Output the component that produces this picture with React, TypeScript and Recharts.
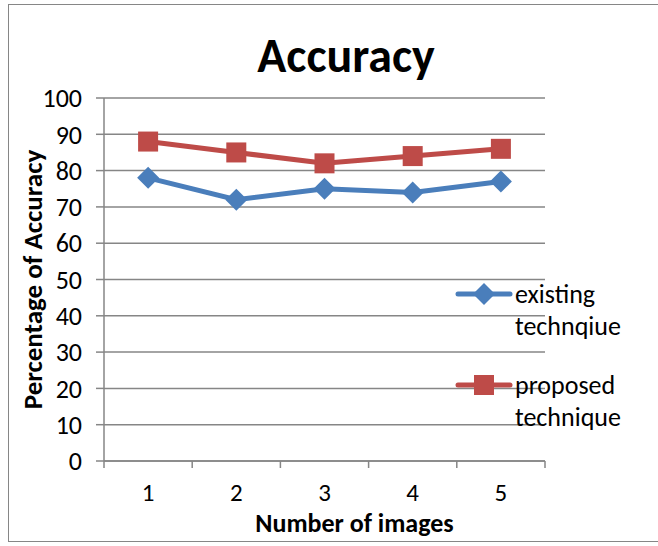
import React from 'react'
import { LineChart, Line, XAxis, YAxis, CartesianGrid } from 'recharts'

const categories = ['1', '2', '3', '4', '5']
const existing = [78, 72, 75, 74, 77]
const proposed = [88, 85, 82, 84, 86]
const yTicks = [0, 10, 20, 30, 40, 50, 60, 70, 80, 90, 100]

const FONT = "Carlito, 'Liberation Sans Narrow', 'Liberation Sans', sans-serif"
const BLUE = '#4a7ebb'
const RED = '#be4b48'
const GRID = '#868686'

const W = 650
const H = 538
const MARGIN = { top: 94, right: 113, left: 0, bottom: 0 }
const Y_W = 96
const BAND = (W - MARGIN.left - MARGIN.right - Y_W) / categories.length

const data = categories.map((c, i) => ({
  name: c,
  existing: existing[i],
  proposed: proposed[i],
}))

// eslint-disable-next-line @typescript-eslint/no-explicit-any
function Diamond({ cx, cy }: any) {
  if (cx == null || cy == null) return null
  const r = 11
  return (
    <polygon
      points={`${cx},${cy - r} ${cx + r},${cy} ${cx},${cy + r} ${cx - r},${cy}`}
      fill={BLUE}
    />
  )
}

// eslint-disable-next-line @typescript-eslint/no-explicit-any
function Square({ cx, cy }: any) {
  if (cx == null || cy == null) return null
  const s = 10
  return <rect x={cx - s} y={cy - s} width={s * 2} height={s * 2} fill={RED} />
}

// tick marks sit between categories, like Excel
// eslint-disable-next-line @typescript-eslint/no-explicit-any
function XTick({ x, y, payload, index }: any) {
  const half = BAND / 2
  return (
    <g>
      <line x1={x - half} x2={x - half} y1={y} y2={y + 7} stroke={GRID} strokeWidth={1.5} />
      {index === categories.length - 1 && (
        <line x1={x + half} x2={x + half} y1={y} y2={y + 7} stroke={GRID} strokeWidth={1.5} />
      )}
      <text x={x} y={y + 40} textAnchor="middle" fill="#000" fontSize={25} fontFamily={FONT}>
        {payload.value}
      </text>
    </g>
  )
}

function LegendIcon({ kind }: { kind: 'diamond' | 'square' }) {
  return (
    <svg width={58} height={24} style={{ display: 'block' }}>
      <line x1={3} x2={55} y1={12} y2={12} stroke={kind === 'diamond' ? BLUE : RED} strokeWidth={5} strokeLinecap="round" />
      {kind === 'diamond' ? (
        <polygon points="29,1 40,12 29,23 18,12" fill={BLUE} />
      ) : (
        <rect x={19} y={2} width={20} height={20} fill={RED} />
      )}
    </svg>
  )
}

function CustomLegend() {
  const items = [
    { kind: 'diamond' as const, label: 'existing technqiue' },
    { kind: 'square' as const, label: 'proposed technique' },
  ]
  return (
    <div style={{ fontFamily: FONT, fontSize: 26, color: '#000' }}>
      {items.map((it, i) => (
        <div key={i} style={{ display: 'flex', alignItems: 'flex-start', marginBottom: i === 0 ? 27 : 0 }}>
          <div style={{ marginTop: 4 }}>
            <LegendIcon kind={it.kind} />
          </div>
          <div style={{ width: 125, lineHeight: '32px', marginLeft: 2 }}>{it.label}</div>
        </div>
      ))}
    </div>
  )
}

export default function App() {
  return (
    <div style={{ position: 'absolute', left: 8, top: 4, width: W, height: H }}>
      <div
        style={{
          position: 'absolute',
          inset: 0,
          border: `1.5px solid ${GRID}`,
          borderRight: 'none',
          boxSizing: 'border-box',
        }}
      />
      <div
        style={{
          position: 'absolute',
          left: 0,
          width: W,
          paddingLeft: 26,
          boxSizing: 'border-box',
          top: 22,
          textAlign: 'center',
          fontFamily: FONT,
          fontWeight: 'bold',
          fontSize: 48,
          color: '#000',
        }}
      >
        Accuracy
      </div>
      <LineChart width={W} height={H} data={data} margin={MARGIN}>
        <CartesianGrid vertical={false} stroke={GRID} strokeWidth={1.5} />
        <XAxis
          dataKey="name"
          height={81}
          padding={{ left: BAND / 2, right: BAND / 2 }}
          axisLine={{ stroke: GRID, strokeWidth: 1.5 }}
          tickLine={false}
          tickSize={0}
          tickMargin={0}
          tick={<XTick />}
          interval={0}
          label={{
            value: 'Number of images',
            position: 'insideBottom',
            offset: 10,
            dx: 30,
            style: { fontFamily: FONT, fontWeight: 'bold', fontSize: 26, fill: '#000' },
          }}
        />
        <YAxis
          width={Y_W}
          domain={[0, 100]}
          ticks={yTicks}
          interval={0}
          axisLine={{ stroke: GRID, strokeWidth: 1.5 }}
          tickLine={{ stroke: GRID, strokeWidth: 1.5 }}
          tickSize={8}
          tickMargin={14}
          tick={{ fontFamily: FONT, fontSize: 26, fill: '#000' }}
          label={{
            value: 'Percentage of Accuracy',
            angle: -90,
            position: 'insideLeft',
            offset: 24,
            style: { fontFamily: FONT, fontWeight: 'bold', fontSize: 27, fill: '#000', textAnchor: 'middle' },
          }}
        />
        <Line
          dataKey="existing"
          stroke={BLUE}
          strokeWidth={5}
          dot={<Diamond />}
          activeDot={false}
          isAnimationActive={false}
        />
        <Line
          dataKey="proposed"
          stroke={RED}
          strokeWidth={5}
          dot={<Square />}
          activeDot={false}
          isAnimationActive={false}
        />
      </LineChart>
      <div style={{ position: 'absolute', left: 447, top: 274 }}>
        <CustomLegend />
      </div>
    </div>
  )
}
